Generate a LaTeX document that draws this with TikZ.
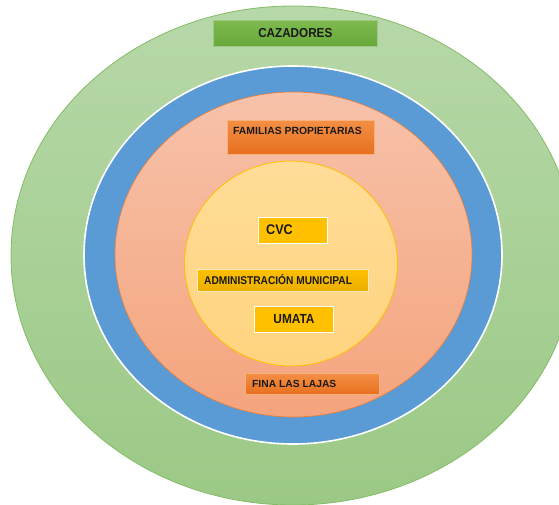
\documentclass[tikz,border=0pt]{standalone}
\usepackage{fontspec}
\setmainfont{Liberation Sans}
% slightly condensed face for the taller tag captions
\newfontfamily\narrowtag{Liberation Sans}[FakeStretch=0.9, BoldFeatures={FakeStretch=0.9}]
\definecolor{greenTop}{HTML}{B7D8A9}
\definecolor{greenBot}{HTML}{9BC985}
\definecolor{greenEdge}{HTML}{84BB66}
\definecolor{ringBlue}{HTML}{5B9BD5}
\definecolor{salmonTop}{HTML}{F7C2AA}
\definecolor{salmonBot}{HTML}{F4A47D}
\definecolor{salmonEdge}{HTML}{ED7D31}
\definecolor{coreTop}{HTML}{FFDC98}
\definecolor{coreBot}{HTML}{FFD47F}
\definecolor{coreEdge}{HTML}{FFC000}
\definecolor{tagGreenTop}{HTML}{7EBA4E}
\definecolor{tagGreenBot}{HTML}{68A83B}
\definecolor{tagOrangeTop}{HTML}{F38F45}
\definecolor{tagOrangeBot}{HTML}{E8701E}
\definecolor{tagGold}{HTML}{FFC000}
\definecolor{tagGoldBot}{HTML}{E9AE00}
\definecolor{ink}{HTML}{1A1A1A}
\tikzset{
  tagbox/.style={rectangle, inner sep=0pt, anchor=north west},
  greentag/.style={tagbox, top color=tagGreenTop, bottom color=tagGreenBot, draw=greenEdge!80!white, line width=0.6pt},
  orangetag/.style={tagbox, top color=tagOrangeTop, bottom color=tagOrangeBot, draw=tagOrangeTop!70!white, line width=0.6pt},
  goldtag/.style={tagbox, fill=tagGold, draw=white, line width=1.4pt},
  goldshade/.style={tagbox, top color=tagGold, bottom color=tagGoldBot, draw=coreTop!60!white, line width=1pt},
  caption/.style={inner sep=0pt, text=ink, font=\bfseries}
}
\begin{document}
\begin{tikzpicture}[x=1pt, y=-1pt]
  \useasboundingbox (0,0) rectangle (559,504);
  \fill[white] (0,0) rectangle (559,504);

  % nested rings, from outermost to innermost
  \draw[greenEdge, line width=0.8pt, top color=greenTop, bottom color=greenBot]
    (293,255.5) ellipse [x radius=282, y radius=249.5];
  \draw[white, line width=1.6pt, fill=ringBlue]
    (293,255) ellipse [x radius=209, y radius=189];
  \draw[salmonEdge, line width=0.6pt, top color=salmonTop, bottom color=salmonBot]
    (293.5,254.5) ellipse [x radius=178.5, y radius=162.5];
  \draw[coreEdge, line width=0.8pt, top color=coreTop, bottom color=coreBot]
    (291,263.5) ellipse [x radius=106.5, y radius=102.5];

  % labelled tags
  \node[greentag, minimum width=164pt, minimum height=26pt] (cazBox) at (213,20) {};
  \node[caption, font=\narrowtag\bfseries\fontsize{13}{15}\selectfont] (caz) at (cazBox.center) {CAZADORES};

  \node[orangetag, minimum width=147pt, minimum height=34pt] (famBox) at (227,120) {};
  \node[caption, anchor=west, font=\bfseries\fontsize{10.4}{12}\selectfont] (fam) at (233,131) {FAMILIAS PROPIETARIAS};

  \node[goldtag, minimum width=69pt, minimum height=26pt] (cvcBox) at (258,217) {};
  \node[caption, anchor=west, font=\narrowtag\bfseries\fontsize{14}{16}\selectfont] (cvc) at (266,230) {CVC};

  \node[goldshade, minimum width=171pt, minimum height=22pt] (admBox) at (197,269) {};
  \node[caption, anchor=west, font=\narrowtag\bfseries\fontsize{11.3}{13}\selectfont] (adm) at (204,280) {ADMINISTRACIÓN MUNICIPAL};

  \node[goldtag, minimum width=79pt, minimum height=26pt] (umaBox) at (254,306) {};
  \node[caption, font=\narrowtag\bfseries\fontsize{13.2}{15}\selectfont] (uma) at (294,319) {UMATA};

  \node[orangetag, minimum width=134pt, minimum height=21pt] (finBox) at (245,373) {};
  \node[caption, anchor=west, font=\bfseries\fontsize{10.3}{12}\selectfont] (fin) at (252,383.5) {FINA LAS LAJAS};
\end{tikzpicture}
\end{document}
